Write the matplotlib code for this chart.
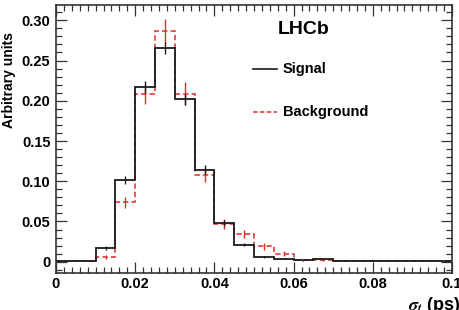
import numpy as np
import matplotlib
matplotlib.use("Agg")
import matplotlib.pyplot as plt
from matplotlib.ticker import MultipleLocator, FixedLocator, FixedFormatter

# sigma_t binning: 20 bins from 0 to 0.1 ps
edges = np.linspace(0, 0.1, 21)

signal = [0.001, 0.001, 0.017, 0.102, 0.217, 0.265, 0.202, 0.114, 0.048, 0.021,
          0.006, 0.004, 0.002, 0.003, 0.001, 0.001, 0.001, 0.001, 0.001, 0.001]
signal_err = [0.0005, 0.0005, 0.002, 0.005, 0.007, 0.0075, 0.007, 0.0056, 0.0035, 0.002,
              0.001, 0.001, 0.0005, 0.0005, 0.0003, 0.0003, 0.0003, 0.0003, 0.0003, 0.0003]

background = [0.001, 0.001, 0.006, 0.074, 0.208, 0.287, 0.209, 0.108, 0.047, 0.034,
              0.019, 0.010, 0.002, 0.002, 0.001, 0.001, 0.001, 0.001, 0.001, 0.001]
background_err = [0.0005, 0.0005, 0.002, 0.007, 0.012, 0.015, 0.014, 0.0087, 0.006, 0.005,
                  0.004, 0.003, 0.001, 0.001, 0.0005, 0.0005, 0.0005, 0.0005, 0.0005, 0.0005]

xticks = [0, 0.02, 0.04, 0.06, 0.08, 0.1]
xticklabels = ['0', '0.02', '0.04', '0.06', '0.08', '0.1']
yticks = [0, 0.05, 0.10, 0.15, 0.20, 0.25, 0.30]
yticklabels = ['0', '0.05', '0.10', '0.15', '0.20', '0.25', '0.30']

plt.rcParams['font.family'] = ['Liberation Sans', 'DejaVu Sans']
plt.rcParams['font.weight'] = 'bold'
plt.rcParams['mathtext.fontset'] = 'stix'

red = '#e32b2b'
fig = plt.figure(figsize=(4.6, 3.1), dpi=100)
ax = fig.add_axes([56/460, 37/310, 396/460, 268/310])

centers = 0.5 * (edges[:-1] + edges[1:])

ax.stairs(background, edges, color=red, lw=1.1, ls=(0, (3.5, 2)), baseline=None)
ax.errorbar(centers, background, yerr=background_err, fmt='none', ecolor=red, elinewidth=1.0)
ax.stairs(signal, edges, color='#1a1a1a', lw=1.3, baseline=None)
ax.errorbar(centers, signal, yerr=signal_err, fmt='none', ecolor='#1a1a1a', elinewidth=1.0)

ax.set_xlim(0, 0.1)
ax.set_ylim(-0.014, 0.319)

ax.xaxis.set_major_locator(FixedLocator(xticks))
ax.xaxis.set_major_formatter(FixedFormatter(xticklabels))
ax.yaxis.set_major_locator(FixedLocator(yticks))
ax.yaxis.set_major_formatter(FixedFormatter(yticklabels))
ax.xaxis.set_minor_locator(MultipleLocator(0.002))
ax.yaxis.set_minor_locator(MultipleLocator(0.01))
ax.tick_params(which='both', direction='in', top=True, right=True, labelsize=10.5, width=0.9, color='#333333')
ax.tick_params(which='major', length=8)
ax.tick_params(which='minor', length=4)
ax.tick_params(axis='x', pad=3)
ax.tick_params(axis='y', pad=4)
for s in ax.spines.values():
    s.set_linewidth(1.2)
    s.set_color('#333333')

fig.text(9/460, 1 - 32/310, 'Arbitrary units', rotation=90, ha='center', va='top',
         fontsize=10, fontweight='bold')
fig.text(1.0, 1 - 305/310, r'$\sigma_t$ (ps)', ha='right', va='center',
         fontsize=13, fontweight='bold')

ax.text(0.561, 0.907, 'LHCb', transform=ax.transAxes, fontsize=14, fontweight='bold', va='center')
ax.plot([0.497, 0.558], [0.761, 0.761], transform=ax.transAxes, color='#1a1a1a', lw=1.2)
ax.text(0.573, 0.761, 'Signal', transform=ax.transAxes, fontsize=10.5, fontweight='bold', va='center')
ax.plot([0.497, 0.558], [0.601, 0.601], transform=ax.transAxes, color=red, lw=1.1, ls=(0, (3, 1.5)))
ax.text(0.573, 0.601, 'Background', transform=ax.transAxes, fontsize=10.5, fontweight='bold', va='center')

fig.savefig('out.png', dpi=100)
